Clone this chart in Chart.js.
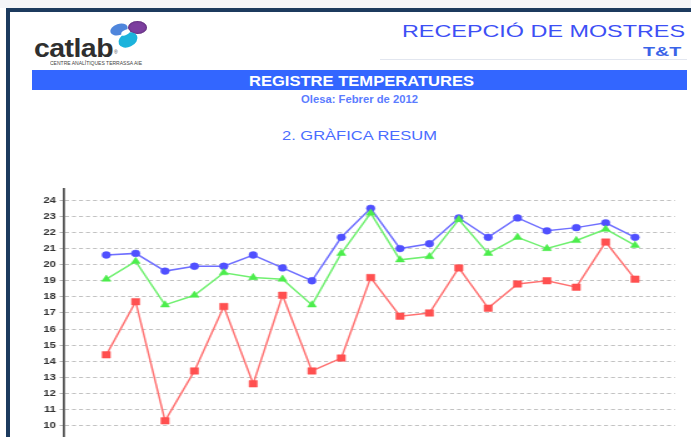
<!DOCTYPE html>
<html><head><meta charset="utf-8">
<script src="https://cdn.jsdelivr.net/npm/chart.js@4.4.1/dist/chart.umd.min.js"></script>
<style>
html,body{margin:0;padding:0;width:691px;height:437px;overflow:hidden;background:#fff;font-family:"Liberation Sans",Arial,sans-serif;}
.abs{position:absolute;white-space:nowrap;line-height:1;transform-origin:0 0;}
.blob{position:absolute;border-radius:50%;}
#wrap{position:absolute;left:14px;top:180px;width:540px;height:290px;transform:scaleX(1.25);transform-origin:0 0;}
</style></head>
<body>
<div class="abs" style="left:0;top:0;width:691px;height:8px;background:#f4f5f8"></div>
<div class="abs" style="left:6px;top:8px;width:685px;height:4px;background:#1c3a5e"></div>
<div class="abs" style="left:6px;top:8px;width:4px;height:429px;background:#1c3a5e"></div>

<!-- logo -->
<div class="blob" style="left:110px;top:24px;width:18px;height:11px;background:#4f86dc;transform:rotate(-18deg)"></div>
<div class="blob" style="left:128px;top:21px;width:19px;height:13px;background:#7d3f9f;box-shadow:inset 0 0 2px #3b1550"></div>
<div class="blob" style="left:118px;top:33px;width:20px;height:14px;background:#1cb3dc;transform:rotate(-25deg)"></div>
<div class="blob" style="left:121px;top:30px;width:9px;height:5px;background:#fff;transform:rotate(-25deg)"></div>
<div class="abs" id="logo" style="top:34.5px;font-size:26px;font-weight:bold;color:#2f2f2f;letter-spacing:-0.5px">catlab</div>
<div class="abs" style="left:114px;top:50px;font-size:5px;color:#444">®</div>
<div class="abs" id="sub" style="top:60.5px;font-size:5.5px;color:#444">CENTRE ANALÍTIQUES TERRASSA AIE</div>

<!-- titles -->
<div class="abs" id="t1" style="top:22.7px;font-size:16.5px;color:#3d4ff5">RECEPCIÓ DE MOSTRES</div>
<div class="abs" id="t2" style="top:45px;font-size:13px;font-weight:bold;color:#3a64e8">T&amp;T</div>
<div class="abs" style="left:380px;top:59px;width:307px;height:1px;background:#e2e6ef"></div>
<div class="abs" style="left:32px;top:70px;width:655px;height:20px;background:#3366ff"></div>
<div class="abs" id="t3" style="top:73.3px;font-size:15px;font-weight:bold;color:#fff">REGISTRE TEMPERATURES</div>
<div class="abs" id="t4" style="top:94px;font-size:11px;font-weight:bold;color:#5b7cff">Olesa: Febrer de 2012</div>
<div class="abs" id="t5" style="top:129.3px;font-size:13.5px;color:#4a6cff">2. GRÀFICA RESUM</div>

<div id="wrap"><canvas id="c" width="540" height="290"></canvas></div>

<script>
// ---- data ----
const dayIndex = [1,2,3,4,5,6,7,8,9,10,11,12,13,14,15,16,17,18,19];
const seriesBlue  = [20.6,20.7,19.6,19.9,19.9,20.6,19.8,19.0,21.7,23.5,21.0,21.3,22.9,21.7,22.9,22.1,22.3,22.6,21.7];
const seriesGreen = [19.1,20.2,17.5,18.1,19.5,19.2,19.1,17.5,20.7,23.2,20.3,20.5,22.8,20.7,21.7,21.0,21.5,22.2,21.2];
const seriesRed   = [14.4,17.7,10.3,13.4,17.4,12.6,18.1,13.4,14.2,19.2,16.8,17.0,19.8,17.3,18.8,19.0,18.6,21.4,19.1];
const yTicks = [10,11,12,13,14,15,16,17,18,19,20,21,22,23,24];

function fit(id, left, width){
  const el = document.getElementById(id);
  el.style.left = left + 'px';
  const w = el.getBoundingClientRect().width;
  el.style.transform = 'scaleX(' + (width / w) + ')';
}
fit('logo', 34, 79);
fit('sub', 50, 92);
fit('t1', 402, 283);
fit('t2', 643.3, 38.4);
fit('t3', 249.3, 225);
fit('t4', 301, 117);
fit('t5', 281.7, 155);

const pts = arr => arr.map((v,i) => ({x: dayIndex[i], y: v}));

new Chart(document.getElementById('c'), {
  type: 'line',
  data: {
    datasets: [
      {label:'Màxima', data: pts(seriesBlue), order:3, borderColor:'#6f6fff', borderWidth:1.5,
       pointStyle:'circle', pointRadius:3.4, pointBackgroundColor:'#5050ff', pointBorderColor:'#5050ff', pointBorderWidth:0.5, tension:0},
      {label:'Mitjana', data: pts(seriesGreen), order:2, borderColor:'#70f070', borderWidth:1.5,
       pointStyle:'triangle', pointRadius:4.2, pointBackgroundColor:'#4ced4c', pointBorderColor:'#4ced4c', pointBorderWidth:0.5, tension:0},
      {label:'Mínima', data: pts(seriesRed), order:1, borderColor:'#ff7272', borderWidth:1.5,
       pointStyle:'rect', pointRadius:4.6, pointBackgroundColor:'#ff5050', pointBorderColor:'#ff5050', pointBorderWidth:0.5, tension:0}
    ]
  },
  options: {
    responsive:false, animation:false, devicePixelRatio:1,
    layout:{padding:{top:9.3, right:11.2, bottom:12.1, left:0}},
    plugins:{legend:{display:false}, tooltip:{enabled:false}},
    scales:{
      x:{type:'linear', min:-0.44, max:20.36, display:false},
      y:{
        min:8, max:24.68,
        afterFit: s => { s.width = 40; },
        afterBuildTicks: s => { s.ticks = yTicks.map(v => ({value:v})); },
        ticks:{stepSize:1, padding:3, color:'#333', font:{family:'"Liberation Sans", Arial, sans-serif', size:9, weight:'bold'}},
        grid:{color:'#c2c2c2', lineWidth:1, drawTicks:true, tickLength:3.5, tickColor:'#b5b5b5', tickBorderDash:[3.2,2.4]},
        border:{display:true, color:'#555', width:1.8, dash:[3.2,2.4]}
      }
    }
  }
});
</script>
</body></html>
